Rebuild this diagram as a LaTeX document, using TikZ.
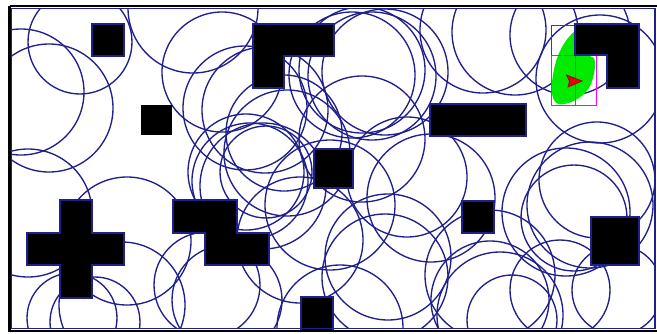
\documentclass[tikz,border=0pt]{standalone}
\begin{document}
\definecolor{cblue}{RGB}{32,32,140}
\definecolor{cgreen}{RGB}{0,235,0}
\definecolor{cred}{RGB}{235,0,0}
\definecolor{cdred}{RGB}{150,0,0}
\definecolor{cmag}{RGB}{255,0,255}
\begin{tikzpicture}[x=1pt,y=-1pt,
  ring/.style={draw=cblue,line width=1.35pt},
  obst/.style={fill=black,draw=cblue,line width=1.4pt}]
\useasboundingbox (0,0) rectangle (657,333);
\fill[white] (0,0) rectangle (657,333);
\begin{scope}
\clip (11.5,8.5) rectangle (655,328.5);
\foreach \cx/\cy/\r in {
 21/92/63, 80/42/52, 49/108/64, 193/8/65, 222/72/60, 245/108/62, 265/110/63,
 28/213/64, 127/241/64, 122/305/63, 72/318/45, 95/322/45,
 352/75/63, 362/70/63, 372/76/64, 385/72/63,
 246/172/58, 250/181/58, 284/133/58, 266/172/46, 330/205/65, 362/139/63,
 407/177/60, 431/198/64, 388/257/63, 300/240/63, 207/285/53, 227/300/55,
 287/153/63, 263/186/63, 385/277/63, 340/328/63,
 566/212/64, 574/218/53, 597/180/58, 560/290/50, 617/290/45, 490/275/65,
 490/300/59, 512/320/45, 590/205/63, 500/315/63,
 515/32/63, 570/35/60, 600/79/64, 483/30/63}
 \draw[ring] (\cx,\cy) circle[radius=\r];
\end{scope}
% green sensed area
\fill[cgreen] (576,30) .. controls (564,40) and (556,55) .. (553,75)
  .. controls (550,92) and (552,103) .. (560,104.5)
  .. controls (572,104) and (586,96) .. (591,84)
  .. controls (595,74) and (596,62) .. (594,58)
  .. controls (590,55) and (582,55) .. (578,55) -- (585,28) -- cycle;
% robot cells
\draw[cred,line width=0.9pt] (551,25) rectangle (575,105);
\draw[cmag,line width=0.9pt] (551,55.5) rectangle (596,105);
\draw[cmag,line width=0.9pt] (575,55.5) -- (575,105);
% obstacles
\draw[obst] (92,24) rectangle (124,56);
\fill[black] (141,105) rectangle (172,135);
\draw[obst] (253,24) -- (334,24) -- (334,56) -- (284,56) -- (284,88) -- (253,88) -- cycle;
\draw[obst] (314,149) rectangle (353,188);
\draw[obst] (430,104) rectangle (526,136);
\draw[obst] (575,24) -- (639,24) -- (639,88) -- (607,88) -- (607,55) -- (575,55) -- cycle;
\draw[obst] (60,200) -- (92,200) -- (92,233) -- (124,233) -- (124,265) -- (92,265) -- (92,298)
  -- (60,298) -- (60,265) -- (27,265) -- (27,233) -- (60,233) -- cycle;
\draw[obst] (173,200) -- (237,200) -- (237,233) -- (269,233) -- (269,265) -- (205,265) -- (205,233) -- (173,233) -- cycle;
\draw[obst] (301,297) rectangle (333,331);
\draw[obst] (462,201) rectangle (494,233);
\draw[obst] (591,217) rectangle (639,265);
% robot
\draw[cdred,fill=cred,line width=0.7pt] (566.5,75) -- (582,81) -- (568,87) -- (569.5,81) -- cycle;
% frame
\draw[cblue,line width=1.3pt] (11.5,8.5) rectangle (655,328.5);
\draw[black,line width=2.8pt] (9.5,6) -- (658,6);
\draw[black,line width=2.8pt] (9.5,6) -- (9.5,331) -- (658,331);
\end{tikzpicture}
\end{document}
